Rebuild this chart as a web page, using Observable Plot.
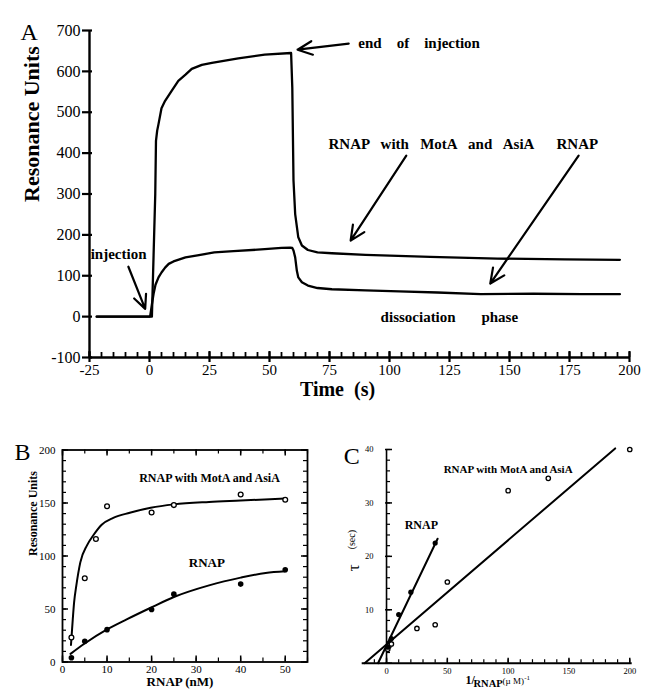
<!DOCTYPE html>
<html><head><meta charset="utf-8">
<script src="https://cdn.jsdelivr.net/npm/d3@7"></script>
<script src="https://cdn.jsdelivr.net/npm/@observablehq/plot@0.6"></script>
<style>
body{margin:0;background:#fff;}
#wrap{position:relative;width:646px;height:693px;background:#fff;overflow:hidden;}
#wrap svg{position:absolute;}
</style></head><body><div id="wrap"></div>
<script>
// ---------- Panel A: sensorgram ----------
const timeUpper = [-22, 0, 1, 1.7, 2.4, 2.7, 3.2, 3.75, 5, 6.5, 9.3, 12, 15, 17.6, 21.8, 26, 37, 48, 59, 59.5, 60, 60.7, 62, 63.5, 66, 70, 76, 90, 117, 145, 173, 196];
const ruUpper   = [0, 0, 0, 150, 300, 430, 455, 471, 510, 528, 553, 577, 592, 606, 616, 621, 632, 641, 645, 560, 333, 251, 194, 174, 163, 157, 155, 151, 146, 142, 140, 139];
const timeLower = [-22, 0, 0.3, 1, 1.7, 2.5, 3.75, 5, 6.5, 8, 10, 15, 20, 27, 35, 48, 55, 58.6, 59.5, 60, 60.7, 61.4, 62, 63.5, 66, 70, 76, 90, 104, 120, 138, 160, 180, 196];
const ruLower   = [0, 0, 2, 30, 56, 78, 96, 108, 120, 129, 135, 145, 150, 157, 160, 165, 168, 169, 168, 162, 145, 112, 96, 84, 76, 70, 67, 64, 62, 59, 55, 56, 55, 55];
const aXTicks = [-25, 0, 25, 50, 75, 100, 125, 150, 175, 200];
const aXMinor = d3.range(-25, 201, 5);
const aYTicks = [-100, 0, 100, 200, 300, 400, 500, 600, 700];
const aNoteText = ["end    of    injection", "RNAP   with   MotA   and   AsiA", "RNAP", "injection", "dissociation", "phase"];
const aNoteX    = [87, 74.6, 169.6, -24.5, 96.3, 138.3];
const aNoteY    = [670, 423, 423, 152, -2, -2];
const aArrowX1 = [83, 107, 178.8, -8.8];
const aArrowY1 = [668, 394, 394, 122];
const aArrowX2 = [61.7, 83.8, 142, -1.8];
const aArrowY2 = [653, 186, 81, 19];

// ---------- Panel B: equilibrium binding ----------
const bMotaConc = [2, 5, 7.5, 10, 20, 25, 40, 50];
const bMotaRU   = [23, 79, 116, 147, 141, 148, 158, 153];
const bRnapConc = [2, 5, 10, 20, 25, 40, 50];
const bRnapRU   = [4, 19.5, 30.5, 49.5, 64, 73.5, 87];
const bMotaFitX = [1.9, 2.3, 2.6, 3.1, 4, 5.5, 7, 8.8, 11.4, 15.1, 19.8, 25, 32.9, 40, 50];
const bMotaFitY = [16, 40, 56, 72, 94, 110, 120, 129.5, 136, 140.8, 145.5, 148.7, 151, 152.3, 154.2];
const bRnapFitX = [1.8, 4.9, 10, 14.4, 19.8, 25, 32.9, 40, 45.6, 50];
const bRnapFitY = [7.7, 17.2, 30.7, 40.2, 51.2, 61.3, 72.3, 79.6, 84, 85.6];
const bXTicks = [0, 10, 20, 30, 40, 50];
const bXMinor = d3.range(0, 56, 5);
const bYTicks = [0, 50, 100, 150, 200];
const bYMinor = d3.range(0, 201, 10);

// ---------- Panel C: tau vs 1/[RNAP] ----------
const cMotaInv = [1, 2, 4, 25, 40, 50, 100, 133, 200];
const cMotaTau = [2.6, 3.2, 3.6, 6.5, 7.2, 15.2, 32.3, 34.6, 40];
const cRnapInv = [1, 4, 10, 20, 40];
const cRnapTau = [3, 4.6, 9.1, 13.3, 22.5];
const cMotaFitX = [-18, 188];
const cMotaFitY = [0, 40.2];
const cRnapFitX = [-7, 42];
const cRnapFitY = [0, 23.3];
const cXTicks = [0, 50, 100, 150, 200];
const cXMinor = d3.range(-10, 201, 10);
const cYTicks = [0, 10, 20, 30, 40];
const cYMinor = d3.range(0, 41, 2);

const SERIF = "Liberation Serif, Times New Roman, serif";
const fmt = d => String(d);
const zip = (xs, ys) => xs.map((x, i) => ({x, y: ys[i]}));
const wrap = document.getElementById("wrap");
function place(svg, left, top) { svg.style.left = left + "px"; svg.style.top = top + "px"; wrap.appendChild(svg); }
const baseStyle = {fontFamily: SERIF, color: "black", background: "transparent", overflow: "visible"};

// tick helpers drawn as short rules anchored on an axis (lengths in px via insets)
const vTicks = (vals, yAt, up, down, sw) => Plot.ruleX(vals, {x: d => d, y1: yAt, y2: yAt, insetTop: -up, insetBottom: -down, strokeWidth: sw});
const hTicks = (vals, xAt, left, right, sw) => Plot.ruleY(vals, {y: d => d, x1: xAt, x2: xAt, insetLeft: -left, insetRight: -right, strokeWidth: sw});

// Panel A
const aNotes = aNoteText.map((t, i) => ({text: t, x: aNoteX[i], y: aNoteY[i]}));
const aArrows = aArrowX1.map((x1, i) => ({x1, y1: aArrowY1[i], x2: aArrowX2[i], y2: aArrowY2[i]}));
const plotA = Plot.plot({
  width: 646, height: 410,
  marginLeft: 89, marginRight: 17, marginTop: 30, marginBottom: 53,
  style: baseStyle,
  x: {domain: [-25, 200]},
  y: {domain: [-100, 700]},
  marks: [
    Plot.axisY({ticks: aYTicks, tickSize: 0, tickPadding: 9, fontSize: 16, tickFormat: fmt, label: null}),
    Plot.axisX({ticks: aXTicks, tickSize: 0, tickPadding: 7, fontSize: 15, tickFormat: fmt, label: null}),
    hTicks(aYTicks, -25, 7, 3, 2.2),
    vTicks(aXTicks, -100, 6, 5, 2.2),
    vTicks(aXMinor, -100, 5, 0, 1.8),
    Plot.ruleX([-25], {strokeWidth: 2.4}),
    Plot.ruleY([-100], {strokeWidth: 2.4}),
    Plot.line(zip(timeUpper, ruUpper), {x: "x", y: "y", strokeWidth: 2.3}),
    Plot.line(zip(timeLower, ruLower), {x: "x", y: "y", strokeWidth: 2.3}),
    Plot.arrow(aArrows, {x1: "x1", y1: "y1", x2: "x2", y2: "y2", strokeWidth: 2.2, headLength: 11, headAngle: 50}),
    Plot.text(aNotes, {x: "x", y: "y", text: "text", textAnchor: "start", fontSize: 15, fontWeight: "bold"}),
    Plot.text(["Resonance Units"], {text: d => d, frameAnchor: "left", dx: -58, dy: 8, rotate: -90, fontSize: 22, fontWeight: "bold"}),
    Plot.text(["Time  (s)"], {text: d => d, frameAnchor: "bottom", dx: -22, dy: 38, fontSize: 20, fontWeight: "bold"}),
    Plot.text(["A"], {text: d => d, frameAnchor: "top-left", dx: -69, dy: -8, fontSize: 24})
  ]
});
place(plotA, 0, 0);

// Panel B
const bNotes = [{text: "RNAP with MotA and AsiA", x: 33, y: 173.5, s: 12}, {text: "RNAP", x: 32.4, y: 94, s: 13}];
const plotB = Plot.plot({
  width: 320, height: 263,
  marginLeft: 62, marginRight: 13, marginTop: 19.5, marginBottom: 31.5,
  style: baseStyle,
  x: {domain: [0, 55]},
  y: {domain: [0, 200]},
  marks: [
    Plot.frame({strokeWidth: 1.8}),
    Plot.axisY({ticks: bYTicks, tickSize: 0, tickPadding: 7, fontSize: 11, tickFormat: fmt, label: null}),
    Plot.axisX({ticks: bXTicks, tickSize: 0, tickPadding: 3, fontSize: 11, tickFormat: fmt, label: null}),
    hTicks(bYTicks, 0, 0, 6, 1.5),
    hTicks(bYMinor, 0, 0, 4, 1.2),
    hTicks(bYTicks, 55, 6, 0, 1.5),
    hTicks(bYMinor, 55, 4, 0, 1.2),
    vTicks(bXTicks, 0, 6, 0, 1.5),
    vTicks(bXMinor, 0, 4, 0, 1.2),
    vTicks(bXTicks, 200, 0, 6, 1.5),
    vTicks(bXMinor, 200, 0, 4, 1.2),
    Plot.line(zip(bMotaFitX, bMotaFitY), {x: "x", y: "y", strokeWidth: 2, curve: "monotone-x"}),
    Plot.line(zip(bRnapFitX, bRnapFitY), {x: "x", y: "y", strokeWidth: 2, curve: "monotone-x"}),
    Plot.dot(zip(bMotaConc, bMotaRU), {x: "x", y: "y", r: 2.4, stroke: "black", strokeWidth: 1.3, fill: "white"}),
    Plot.dot(zip(bRnapConc, bRnapRU), {x: "x", y: "y", r: 2.8, fill: "black", stroke: "none"}),
    Plot.text(bNotes, {x: "x", y: "y", text: "text", fontSize: "s", fontWeight: "bold"}),
    Plot.text(["Resonance Units"], {text: d => d, frameAnchor: "left", dx: -29, dy: 0, rotate: -90, fontSize: 12, fontWeight: "bold"}),
    Plot.text(["RNAP (nM)"], {text: d => d, frameAnchor: "bottom", dx: -5, dy: 24, fontSize: 13, fontWeight: "bold"}),
    Plot.text(["B"], {text: d => d, frameAnchor: "top-left", dx: -48, dy: -7, fontSize: 24})
  ]
});
place(plotB, 0, 430);

// Panel C
const cML = 41.7, cMR = 14.3, cW = 326;
const x0px = Plot.scale({x: {domain: [-20, 202], range: [cML, cW - cMR]}}).apply(0);
const yAxDx = x0px - cML;
const cNotes = [{text: "RNAP with MotA and AsiA", x: 100, y: 36.2, s: 11}, {text: "RNAP", x: 28.6, y: 25.8, s: 12}];
const plotC = Plot.plot({
  width: cW, height: 263,
  marginLeft: cML, marginRight: cMR, marginTop: 19, marginBottom: 30.3,
  style: baseStyle,
  x: {domain: [-20, 202]},
  y: {domain: [0, 40]},
  marks: [
    Plot.ruleY([0], {strokeWidth: 2}),
    Plot.ruleX([0], {strokeWidth: 1.6}),
    Plot.axisY({ticks: cYTicks.filter(d => d > 0), tickSize: 0, tickPadding: 13, dx: yAxDx, fontSize: 8.5, tickFormat: fmt, label: null}),
    Plot.axisX({ticks: cXTicks, tickSize: 0, tickPadding: 5, fontSize: 8.5, tickFormat: fmt, label: null}),
    hTicks(cYTicks, 0, 1, 6, 1.5),
    hTicks(cYMinor, 0, 0, 4, 1.2),
    vTicks(cXTicks, 0, 5, 0, 1.5),
    vTicks(cXMinor, 0, 3.5, 0, 1.2),
    Plot.line(zip(cMotaFitX, cMotaFitY), {x: "x", y: "y", strokeWidth: 2}),
    Plot.line(zip(cRnapFitX, cRnapFitY), {x: "x", y: "y", strokeWidth: 2}),
    Plot.dot(zip(cMotaInv, cMotaTau), {x: "x", y: "y", r: 2.2, stroke: "black", strokeWidth: 1.3, fill: "white"}),
    Plot.dot(zip(cRnapInv, cRnapTau), {x: "x", y: "y", r: 2.6, fill: "black", stroke: "none"}),
    Plot.text(cNotes, {x: "x", y: "y", text: "text", fontSize: "s", fontWeight: "bold"}),
    Plot.text(["\u03c4"], {text: d => d, frameAnchor: "left", dx: -9, dy: 15, rotate: -90, fontSize: 17}),
    Plot.text(["(sec)"], {text: d => d, frameAnchor: "left", dx: -10, dy: -7, rotate: -90, fontSize: 10}),
    Plot.text(["1/"], {text: d => d, frameAnchor: "bottom-left", textAnchor: "start", dx: 103.3, dy: 21, fontSize: 12, fontWeight: "bold"}),
    Plot.text(["RNAP"], {text: d => d, frameAnchor: "bottom-left", textAnchor: "start", dx: 111.3, dy: 24, fontSize: 10.5, fontWeight: "bold"}),
    Plot.text(["(\u00b5 M)"], {text: d => d, frameAnchor: "bottom-left", textAnchor: "start", dx: 140.3, dy: 21, fontSize: 9}),
    Plot.text(["-1"], {text: d => d, frameAnchor: "bottom-left", textAnchor: "start", dx: 162, dy: 17, fontSize: 7}),
    Plot.text(["C"], {text: d => d, frameAnchor: "top-left", dx: -18.4, dy: -2.3, fontSize: 24})
  ]
});
place(plotC, 320, 430);
</script>
</body></html>
